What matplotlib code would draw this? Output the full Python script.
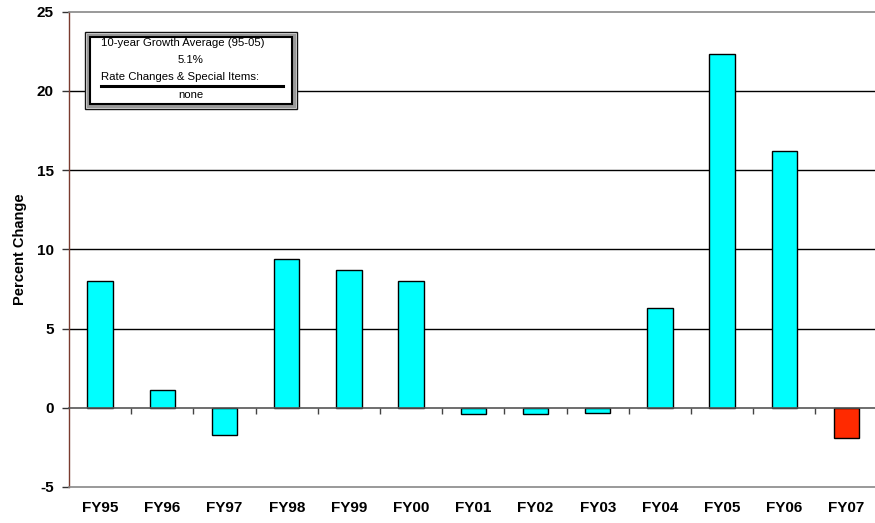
import matplotlib
matplotlib.use("Agg")
import matplotlib.pyplot as plt
from matplotlib.patches import Rectangle
from matplotlib.lines import Line2D

plt.rcParams['font.family'] = ['Liberation Sans', 'DejaVu Sans']

# Year-over-year percent change by fiscal year
years = ["FY95", "FY96", "FY97", "FY98", "FY99", "FY00", "FY01",
         "FY02", "FY03", "FY04", "FY05", "FY06", "FY07"]
pct_change = [8.0, 1.1, -1.7, 9.4, 8.7, 8.0, -0.4, -0.4, -0.3, 6.3, 22.3, 16.2, -1.9]
bar_colors = ["#00FFFF"] * 12 + ["#FF2A00"]

y_ticks = [-5, 0, 5, 10, 15, 20, 25]
note_lines = ["10-year Growth Average (95-05)", "5.1%",
              "Rate Changes & Special Items:", "none"]

W, H = 875, 523
fig = plt.figure(figsize=(W / 100, H / 100), dpi=100)
ax = fig.add_axes([69 / W, (H - 487) / H, 808.6 / W, 475.5 / H])

x = list(range(len(years)))
ax.bar(x, pct_change, width=0.41, color=bar_colors, edgecolor="black",
       linewidth=1.0, zorder=3)

ax.set_xlim(-0.5, len(years) - 0.5)
ax.set_ylim(-5, 25)
ax.set_yticks(y_ticks)
ax.set_yticklabels([str(v) for v in y_ticks], fontsize=11, fontweight="bold")
ax.set_xticks(x)
ax.set_xticklabels(years, fontsize=11, fontweight="bold")
ax.tick_params(axis="x", length=0, pad=10)
ax.tick_params(axis="y", length=5, width=1, color="#333333", pad=6)

# horizontal gridlines
for v in [5, 10, 15, 20]:
    ax.axhline(v, color="black", linewidth=1.0, zorder=1)

for side in ["top", "bottom"]:
    ax.spines[side].set_color("#888888")
    ax.spines[side].set_linewidth(1.2)
ax.spines["right"].set_visible(False)
ax.spines["left"].set_color("#7A3B2E")
ax.spines["left"].set_linewidth(1.0)

ax.set_ylabel("Percent Change", fontsize=10.5, fontweight="bold", labelpad=7)

# category axis crossing at zero, with ticks between categories
ax2 = ax.twiny()
ax2.set_xlim(ax.get_xlim())
for side in ["top", "right", "left"]:
    ax2.spines[side].set_visible(False)
ax2.spines["bottom"].set_position(("data", 0))
ax2.spines["bottom"].set_color("#555555")
ax2.spines["bottom"].set_linewidth(1.2)
ax2.spines["bottom"].set_zorder(4)
ax2.xaxis.set_ticks_position("bottom")
ax2.set_xticks([i + 0.5 for i in range(len(years) - 1)])
ax2.set_xticklabels([])
ax2.tick_params(axis="x", direction="out", length=4, width=1, color="#444444")


def px(xp, yp):
    return xp / W, 1 - yp / H


# note box with a double border
x0, y0 = px(85, 109)
x1, y1 = px(297, 32)
fig.patches.append(Rectangle((x0, y0), x1 - x0, y1 - y0, transform=fig.transFigure,
                             facecolor="white", edgecolor="#111111", linewidth=1.0,
                             zorder=5))
ix0, iy0 = px(88, 106)
ix1, iy1 = px(294, 35)
fig.patches.append(Rectangle((ix0, iy0), ix1 - ix0, iy1 - iy0, transform=fig.transFigure,
                             facecolor="none", edgecolor="#999999", linewidth=2.5,
                             zorder=6))
jx0, jy0 = px(90, 104)
jx1, jy1 = px(292, 37)
fig.patches.append(Rectangle((jx0, jy0), jx1 - jx0, jy1 - jy0, transform=fig.transFigure,
                             facecolor="none", edgecolor="black", linewidth=1.5,
                             zorder=7))

tx, ty = px(101, 43)
fig.text(tx, ty, note_lines[0], fontsize=8.2, ha="left", va="center", zorder=8)
tx, ty = px(191, 60)
fig.text(tx, ty, note_lines[1], fontsize=8.2, ha="center", va="center", zorder=8)
tx, ty = px(101, 77)
fig.text(tx, ty, note_lines[2], fontsize=8.2, ha="left", va="center", zorder=8)
lx0, ly = px(101, 86)
lx1, _ = px(283, 86)
fig.lines.append(Line2D([lx0, lx1], [ly, ly], transform=fig.transFigure,
                        color="black", linewidth=2.2, zorder=8))
tx, ty = px(191, 95)
fig.text(tx, ty, note_lines[3], fontsize=8.2, ha="center", va="center", zorder=8)

fig.savefig("out.png", dpi=100)
